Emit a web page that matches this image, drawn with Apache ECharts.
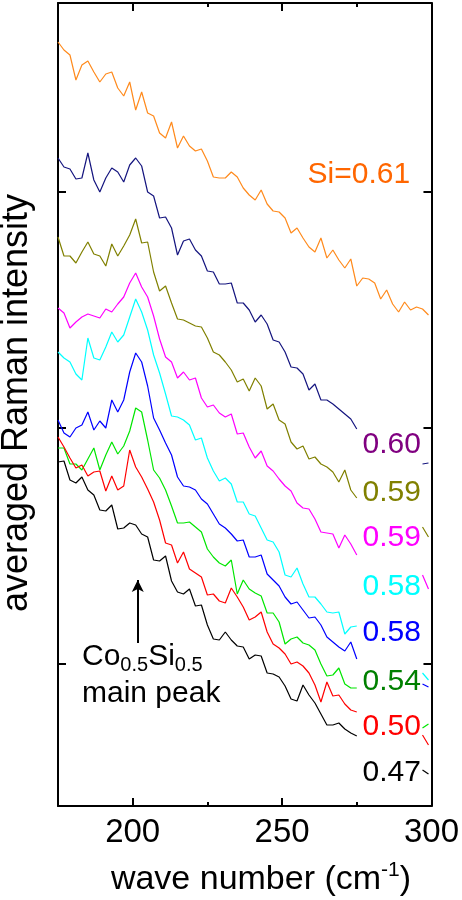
<!DOCTYPE html>
<html>
<head>
<meta charset="utf-8">
<title>averaged Raman intensity</title>
<script src="https://cdn.jsdelivr.net/npm/echarts@6/dist/echarts.min.js"></script>
<style>
html, body { margin: 0; padding: 0; background: #fff; }
#main { width: 462px; height: 900px; }
</style>
</head>
<body>
<div id="main"></div>
<script>
// wave number grid (cm-1) shared by every spectrum
var waveNumbers = [175,177,179,181,183,185,187,189,191,193,195,197,199,201,203,205,207,209,211,213,
  215,217,219,221,223,225,227,229,231,233,235,237,239,241,243,245,247,249,251,253,
  255,257,259,261,263,265,267,269,271,273,275,277,279,281,283,285,287,289,291,293,
  295,297,299];

// averaged Raman intensity (arb. units, curves offset)
// null = hidden behind the composition labels
var si061 = [764,756,751,726,741,745,734,724,732,734,718,710,724,696,714,693,690,673,668,684,
  658,670,660,655,657,645,629,628,628,634,629,618,611,606,616,602,595,594,588,573,
  578,568,559,554,568,548,556,546,538,547,520,528,527,523,507,516,502,494,504,496,
  499,497,491];
var si060 = [648,639,637,627,628,653,626,614,628,638,634,624,641,648,640,614,610,588,589,578,
  551,565,567,556,550,535,534,522,522,523,503,503,496,484,491,482,466,464,454,439,
  438,432,416,422,406,406,402,397,392,387,377,null,null,null,null,null,null,null,null,null,
  null,342,343];
var si059a = [569,550,550,543,554,564,552,550,540,562,550,560,571,587,563,564,534,515,520,503,
  487,486,483,480,479,468,454,451,444,436,424,427,415,428,420,397,402,386,382,364,
  357,360,347,349,342,339,334,324,336,316,308,null,null,null,null,null,null,null,null,null,
  null,279,269];
var si059b = [498,493,478,484,489,492,490,488,497,494,502,509,523,533,519,509,490,467,449,444,
  428,434,426,428,408,399,401,393,389,392,372,373,359,348,355,340,335,327,320,315,
  303,298,297,287,274,273,272,258,271,262,251,null,null,null,null,null,null,null,null,null,
  null,231,217];
var si058a = [454,448,444,432,426,468,448,446,459,474,464,471,489,507,494,476,451,433,412,390,
  389,386,381,366,368,348,335,325,328,322,304,304,292,290,278,266,264,254,231,229,
  238,222,209,209,202,194,193,194,172,179,180,null,null,null,null,null,null,null,null,null,
  null,133,126];
var si058b = [386,373,369,378,381,394,376,385,378,406,394,406,434,453,444,420,388,376,363,351,
  329,320,319,316,307,302,292,282,278,272,265,266,249,249,251,232,226,220,209,202,
  204,196,188,189,181,169,164,159,155,164,147,null,null,null,null,null,null,null,null,null,
  null,122,119];
var si054 = [358,358,342,342,336,347,358,336,351,364,352,360,375,398,394,366,336,328,316,300,
  283,283,284,279,274,257,249,243,240,246,212,226,217,213,210,193,193,184,162,167,
  169,163,161,156,142,130,131,138,122,118,118,null,null,null,null,null,null,null,null,null,
  null,78,82];
var si050 = [369,359,348,338,341,330,334,335,315,330,316,320,356,339,329,317,304,286,263,261,
  243,254,237,233,229,211,212,205,203,218,209,199,186,189,194,174,162,158,152,142,
  144,140,133,121,104,124,110,111,102,96,94,null,null,null,null,null,null,null,null,null,
  null,71,61];
var si047 = [344,345,326,323,329,316,311,296,295,301,277,278,283,281,272,269,246,245,250,225,
  214,212,217,200,201,181,167,166,174,166,160,159,147,151,150,133,132,129,120,107,
  105,121,111,103,92,81,81,83,77,73,70,null,null,null,null,null,null,null,null,null,
  null,36,32];

var siLabels = ['Si=0.61','0.60','0.59','0.59','0.58','0.58','0.54','0.50','0.47'];
var xMajorTicks = [200, 250, 300];
var xMinorTicks = [225, 275];
var yTicks = [142, 378, 614];

var FONT = '"Liberation Sans", Arial, Helvetica, sans-serif';

var chart = echarts.init(document.getElementById('main'), null, {renderer: 'canvas'});

function pairs(values){
    return waveNumbers.map(function(w, i){ return [w, values[i]]; });
}

// line colour, label colour, label anchor (wave number, intensity)
var spectra = [
    {data: si061,  color: '#ff8a1c', text: '#ff6600', at: [275.7, 631]},
    {data: si060,  color: '#15157f', text: '#800080', at: [286.7, 361]},
    {data: si059a, color: '#808000', text: '#808000', at: [286.7, 313]},
    {data: si059b, color: '#ff00ff', text: '#ff00ff', at: [286.7, 268]},
    {data: si058a, color: '#00ffff', text: '#00ffff', at: [286.7, 219]},
    {data: si058b, color: '#0000ff', text: '#0000ff', at: [286.7, 173]},
    {data: si054,  color: '#00e600', text: '#008000', at: [286.7, 124]},
    {data: si050,  color: '#ff0000', text: '#ff0000', at: [286.7, 79]},
    {data: si047,  color: '#000000', text: '#000000', at: [286.7, 33]}
];

var series = spectra.map(function(s, i){
    return {
        type: 'line',
        data: pairs(s.data),
        showSymbol: false,
        symbol: 'none',
        connectNulls: false,
        lineStyle: {color: s.color, width: 1.2},
        z: 2,
        markPoint: {
            silent: true,
            symbol: 'circle',
            symbolSize: 0,
            label: {
                show: true,
                formatter: siLabels[i],
                color: s.text,
                fontSize: 30,
                fontFamily: FONT
            },
            data: [{coord: s.at}]
        }
    };
});

// arrow pointing at the Co0.5Si0.5 main peak
series[8].markLine = {
    silent: true,
    symbol: ['none', 'arrow'],
    symbolSize: [9, 12],
    label: {show: false},
    lineStyle: {color: '#000', width: 2, type: 'solid'},
    data: [[{coord: [201.7, 163]}, {coord: [201.7, 226]}]]
};

function xAxisDef(pos, ticks, len, line, labels){
    return {
        type: 'value', position: pos, min: 175, max: 300,
        axisLine: {show: line, onZero: false, lineStyle: {color: '#000', width: 2}},
        axisTick: {show: true, inside: true, length: len, customValues: ticks,
            lineStyle: {color: '#000', width: 2}},
        axisLabel: labels ? {show: true, customValues: xMajorTicks, color: '#000',
            fontSize: 33, fontFamily: FONT, margin: 10} : {show: false},
        splitLine: {show: false}
    };
}
function yAxisDef(pos){
    return {
        type: 'value', position: pos, min: 0, max: 803,
        axisLine: {show: true, onZero: false, lineStyle: {color: '#000', width: 2}},
        axisTick: {show: true, inside: true, length: 8, customValues: yTicks,
            lineStyle: {color: '#000', width: 2}},
        axisLabel: {show: false},
        splitLine: {show: false}
    };
}

chart.setOption({
    animation: false,
    backgroundColor: '#fff',
    grid: {left: 58, right: 29, top: 3, bottom: 94, containLabel: false},
    xAxis: [
        xAxisDef('bottom', xMajorTicks, 8, true, true),
        xAxisDef('bottom', xMinorTicks, 4, false, false),
        xAxisDef('top', [200, 250], 8, true, false),
        xAxisDef('top', xMinorTicks, 4, false, false)
    ],
    yAxis: [yAxisDef('left'), yAxisDef('right')],
    series: series,
    graphic: [
        {
            type: 'text', x: 82, y: 638, silent: true,
            style: {
                text: '{a|Co}{s|0.5}{a|Si}{s|0.5}\n{a|main peak}',
                rich: {
                    a: {fontSize: 30, fontFamily: FONT, fill: '#000', lineHeight: 37},
                    s: {fontSize: 20, fontFamily: FONT, fill: '#000', lineHeight: 16, verticalAlign: 'bottom'}
                }
            }
        },
        {
            type: 'text', x: 261, y: 880, silent: true,
            style: {
                text: '{a|wave number (cm}{b|-1}{a|)}',
                align: 'center', verticalAlign: 'middle',
                textAlign: 'center', textVerticalAlign: 'middle',
                rich: {
                    a: {fontSize: 34, fontFamily: FONT, fill: '#000', lineHeight: 40},
                    b: {fontSize: 21, fontFamily: FONT, fill: '#000', lineHeight: 26, verticalAlign: 'top'}
                }
            }
        },
        {
            type: 'text', x: 17, y: 403, rotation: Math.PI / 2, silent: true,
            style: {
                text: 'averaged Raman intensity',
                align: 'center', verticalAlign: 'middle',
                textAlign: 'center', textVerticalAlign: 'middle',
                fontSize: 36, fontFamily: FONT, fill: '#000'
            }
        }
    ]
});

window.onresize = chart.resize;
</script>
</body>
</html>
